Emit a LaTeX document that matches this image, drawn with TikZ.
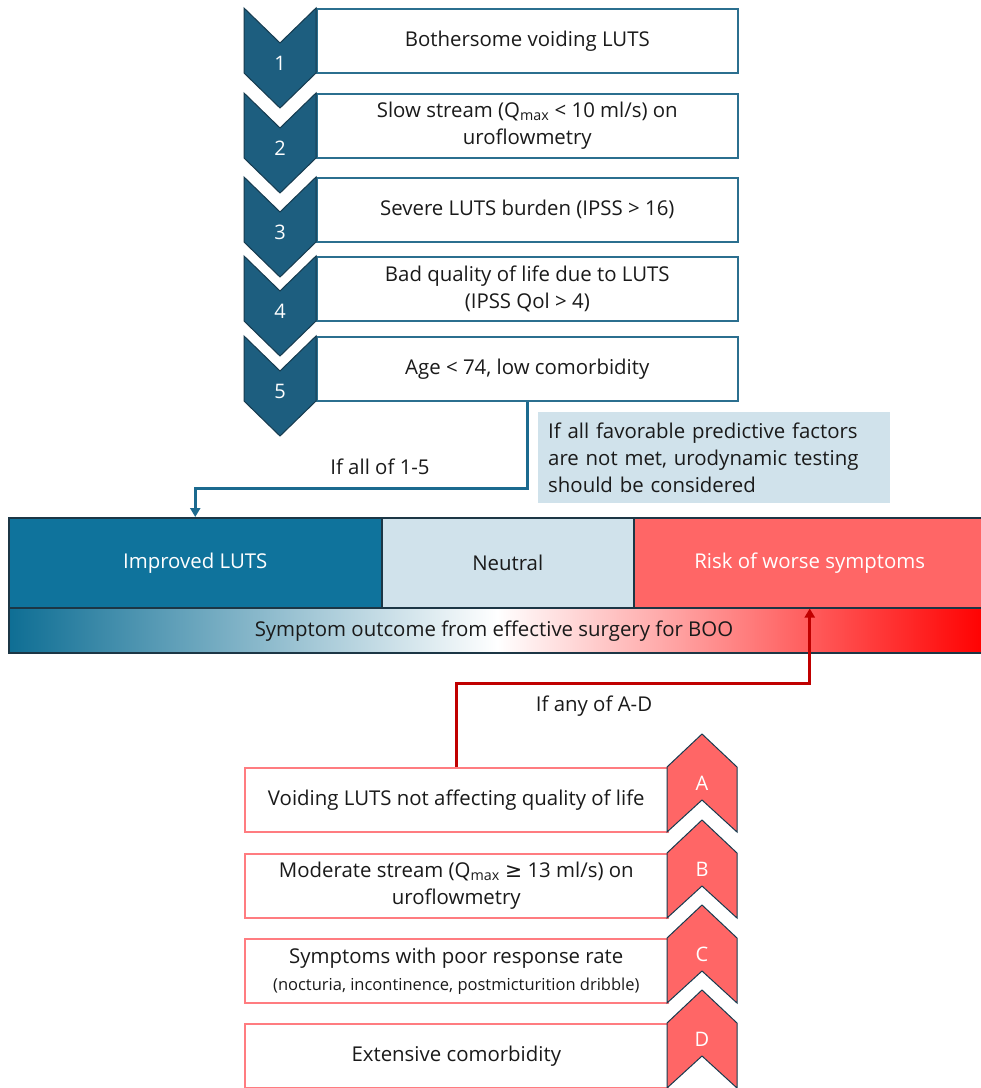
\documentclass[tikz,border=0pt]{standalone}
\usepackage{fontspec}
\setmainfont{Open Sans}
\newfontfamily\symfont{DejaVu Sans}
\usetikzlibrary{arrows.meta}
\definecolor{chev}{HTML}{1D5E7F}
\definecolor{chevline}{HTML}{163B4F}
\definecolor{boxblue}{HTML}{2B6F8F}
\definecolor{impr}{HTML}{0F739C}
\definecolor{neutral}{HTML}{D0E2EB}
\definecolor{risk}{HTML}{FF6666}
\definecolor{redline}{HTML}{C00000}
\definecolor{boxred}{HTML}{FF7C80}
\definecolor{txt}{HTML}{1A1A1A}
\definecolor{barline}{HTML}{1C3645}
\definecolor{gradblue}{HTML}{0E6E94}
\definecolor{connblue}{HTML}{1B6A8F}
\begin{document}
\begin{tikzpicture}[x=1pt,y=-1pt,
  every node/.style={inner sep=0pt, text=txt, font=\fontsize{20.4}{27}\selectfont},
  topbox/.style={draw=boxblue, line width=1.6pt, fill=white, minimum width=421pt, minimum height=64pt, anchor=north west, align=center},
  botbox/.style={draw=boxred, line width=1.6pt, fill=white, minimum width=423pt, minimum height=64pt, anchor=north west, align=center},
  chevdown/.style={fill=chev, draw=chevline, line width=1pt, line join=miter},
  chevup/.style={fill=risk, draw=chevline, line width=1pt, line join=miter},
  numlabel/.style={text=white, font=\fontsize{20}{22}\selectfont},
  seg/.style={draw=barline, line width=1.5pt, minimum height=90pt, anchor=north west},
  blueconn/.style={draw=connblue, line width=3pt, -{Triangle[length=9pt,width=10pt]}},
  redconn/.style={draw=redline, line width=3pt, -{Triangle[length=9pt,width=10pt]}},
  note/.style={fill=neutral, minimum width=352pt, minimum height=91pt, anchor=north west, text width=332pt, inner xsep=10pt, align=left}
]
\useasboundingbox (0,0) rectangle (981,1088);
\fill[white] (0,0) rectangle (981,1088);

% top boxes
\node[topbox] (b1) at (316,8) {Bothersome voiding LUTS};
\node[topbox] (b2) at (316,93) {Slow stream (Q\textsubscript{max} < 10 ml/s) on\\uroflowmetry};
\node[topbox] (b3) at (316,177) {Severe LUTS burden (IPSS > 16)};
\node[topbox] (b4) at (316,256) {Bad quality of life due to LUTS\\(IPSS Qol > 4)};
\node[topbox] (b5) at (316,336) {Age < 74, low comorbidity};

% blue chevrons
\foreach \t/\n in {8/1, 93/2, 177/3, 256/4, 336/5}{
  \draw[chevdown] (244,\t) -- (280,\t+35) -- (316,\t) -- (316,\t+65) -- (280,\t+100) -- (244,\t+65) -- cycle;
  \node[numlabel] (n\n) at (280,\t+55) {\n};
}

% note
\node[note] (note) at (538,412) {If all favorable predictive factors\\are not met, urodynamic testing\\should be considered};

% bar
\node[seg, fill=impr, minimum width=373pt] (impr) at (8,517) {\raisebox{-3pt}{\textcolor{white}{Improved LUTS}}};
\node[seg, fill=neutral, minimum width=252pt] (neut) at (381,517) {\raisebox{-1pt}{Neutral}};
\node[seg, fill=risk, minimum width=352pt] (risk) at (633,517) {\raisebox{-2pt}{\textcolor{white}{Risk of worse symptoms}}};
\node[draw=barline, line width=1.5pt, anchor=north west, minimum width=977pt, minimum height=45pt,
  left color=gradblue, right color=red, middle color=white] (grad) at (8,607) {};
\node (gradtext) at (494,631) {Symptom outcome from effective surgery for BOO};

% bottom boxes
\node[botbox] (bA) at (244,767) {Voiding LUTS not affecting quality of life};
\node[botbox] (bB) at (244,853) {Moderate stream (Q\textsubscript{max} {\symfont ≥} 13 ml/s) on\\uroflowmetry};
\node[botbox] (bC) at (244,938) {Symptoms with poor response rate\\{\fontsize{16.5}{18}\selectfont (nocturia, incontinence, postmicturition dribble)}};
\node[botbox] (bD) at (244,1023) {Extensive comorbidity};

% red chevrons
\foreach \t/\n in {767/A, 853/B, 938/C, 1023/D}{
  \draw[chevup] (667,\t) -- (702,\t-33) -- (737,\t) -- (737,\t+65) -- (702,\t+33) -- (667,\t+65) -- cycle;
  \node[numlabel] (L\n) at (702,\t+16) {\n};
}

% connectors
\coordinate (bj) at (0,488);
\draw[blueconn] (b5.south) -- (b5.south |- bj) -| (impr.north);
\node (lab1) at (380,467) {If all of 1-5};

\coordinate (rj) at (0,683);
\draw[redconn] (bA.north) -- (bA.north |- rj) -| (risk.south);
\node (lab2) at (594,706) {If any of A-D};
\end{tikzpicture}
\end{document}
